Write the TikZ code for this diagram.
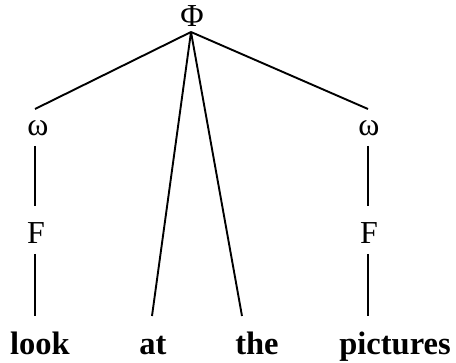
\documentclass[tikz,border=0pt]{standalone}
\usepackage{fontspec}
\setmainfont{Liberation Serif}
\begin{document}
\begin{tikzpicture}[x=1pt,y=-1pt,
  lbl/.style={inner sep=0pt,font=\fontsize{32}{36}\selectfont},
  word/.style={inner sep=0pt,anchor=base,font=\fontsize{32.5}{36}\selectfont\bfseries},
  edge/.style={line width=1.9pt}]
\useasboundingbox (0,0) rectangle (456,363);
\node[lbl] (phi) at (192,16) {Φ};
\node[lbl] (omL) at (38,128) {ω};
\node[lbl] (omR) at (369,128) {ω};
\node[lbl] (FL) at (36,233) {F};
\node[lbl] (FR) at (369,233) {F};
\node[word] (look) at (40,355) {look};
\node[word] (at) at (153,355) {at};
\node[word] (the) at (257,355) {the};
\node[word] (pic) at (395,355) {pictures};
\coordinate (apex) at (191,32);
\coordinate (oLt) at (35,109);
\coordinate (oRt) at (368,109);
\coordinate (oLb) at (35,146);
\coordinate (oRb) at (368,146);
\coordinate (fLt) at (35,206);
\coordinate (fRt) at (368,206);
\coordinate (fLb) at (35,254);
\coordinate (fRb) at (368,254);
\coordinate (lookT) at (35,316);
\coordinate (atT) at (152,316);
\coordinate (theT) at (242,316);
\coordinate (picT) at (368,316);
\draw[edge] (apex) -- (oLt);
\draw[edge] (apex) -- (oRt);
\draw[edge] (apex) -- (atT);
\draw[edge] (apex) -- (theT);
\draw[edge] (oLb) -- (fLt);
\draw[edge] (oRb) -- (fRt);
\draw[edge] (fLb) -- (lookT);
\draw[edge] (fRb) -- (picT);
\end{tikzpicture}
\end{document}
